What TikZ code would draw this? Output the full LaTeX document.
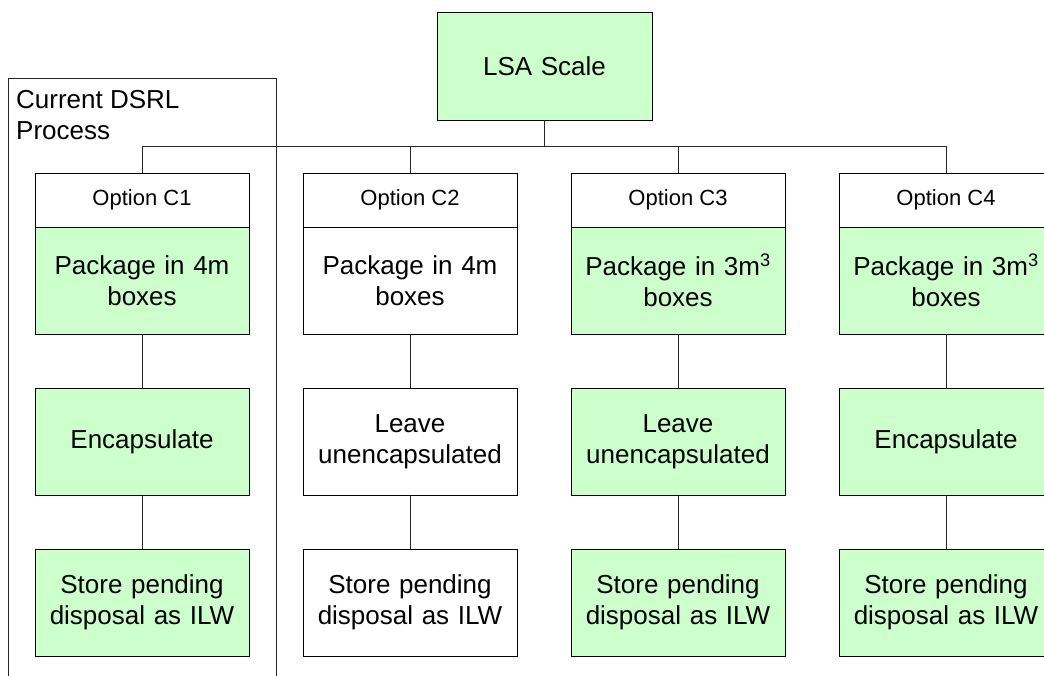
\documentclass[tikz,border=0pt]{standalone}
\usepackage{fontspec}
\setmainfont{Liberation Sans}
\definecolor{lsagreen}{HTML}{CCFFCC}
\begin{document}
\begin{tikzpicture}[x=1pt,y=-1pt,
  stage/.style={draw=black, line width=0.9pt, minimum width=214pt, minimum height=107pt,
    inner sep=2pt, align=center, text width=206pt, font=\fontsize{26}{31}\selectfont},
  green/.style={fill=lsagreen},
  optbox/.style={draw=black, line width=0.9pt, minimum width=214pt, minimum height=54pt,
    inner sep=2pt, font=\fontsize{22}{26}\selectfont},
  link/.style={draw=black!85, line width=0.9pt}]
  \useasboundingbox (0,0) rectangle (1044,676);
  \clip (0,0) rectangle (1044,676);

  % frame around the current process
  \coordinate (fBL) at (8,690);
  \coordinate (fTL) at (8,78);
  \coordinate (fTR) at (276,78);
  \coordinate (fBR) at (276,690);
  \draw[link] (fBL) -- (fTL) -- (fTR) -- (fBR);
  \node[anchor=north west, inner sep=0pt, align=left, font=\fontsize{26}{31}\selectfont]
    (dsrl) at (16,90) {Current DSRL\\Process};

  % top node
  \node[stage, green, minimum width=215pt, minimum height=108pt] (lsa) at (544.5,66) {LSA Scale};

  % options
  \node[optbox] (o1) at (142,200) {Option C1};
  \node[optbox] (o2) at (410,200) {Option C2};
  \node[optbox] (o3) at (678,200) {Option C3};
  \node[optbox] (o4) at (946,200) {Option C4};

  % packaging step
  \node[stage, green] (p1) at (142,280.5) {Package in 4m\\boxes};
  \node[stage]        (p2) at (410,280.5) {Package in 4m\\boxes};
  \node[stage, green] (p3) at (678,280.5) {Package in 3m\textsuperscript{3}\\boxes};
  \node[stage, green] (p4) at (946,280.5) {Package in 3m\textsuperscript{3}\\boxes};

  % treatment step
  \node[stage, green] (e1) at (142,441.5) {Encapsulate};
  \node[stage]        (e2) at (410,441.5) {Leave\\unencapsulated};
  \node[stage, green] (e3) at (678,441.5) {Leave\\unencapsulated};
  \node[stage, green] (e4) at (946,441.5) {Encapsulate};

  % storage step
  \node[stage, green] (s1) at (142,602.5) {Store pending\\disposal as ILW};
  \node[stage]        (s2) at (410,602.5) {Store pending\\disposal as ILW};
  \node[stage, green] (s3) at (678,602.5) {Store pending\\disposal as ILW};
  \node[stage, green] (s4) at (946,602.5) {Store pending\\disposal as ILW};

  % tree connectors
  \coordinate (busL) at (142,146);
  \coordinate (busR) at (946,146);
  \draw[link] (busL) -- (busR);
  \draw[link] (lsa.south) -- (lsa.south |- busL);
  \foreach \i in {1,2,3,4} {
    \draw[link] (o\i.north) -- (o\i.north |- busL);
    \draw[link] (p\i.south) -- (e\i.north);
    \draw[link] (e\i.south) -- (s\i.north);
  }
\end{tikzpicture}
\end{document}
